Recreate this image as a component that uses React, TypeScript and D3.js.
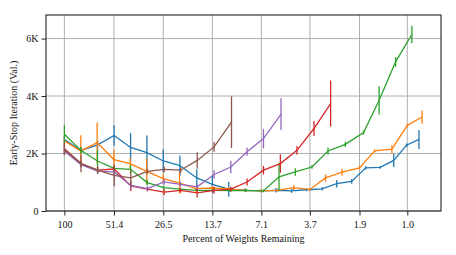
import React, { useEffect, useRef } from "react";
import * as d3 from "d3";

const xTicks = [100, 51.4, 26.5, 13.7, 7.1, 3.7, 1.9, 1.0];
const xTickLabels = ["100", "51.4", "26.5", "13.7", "7.1", "3.7", "1.9", "1.0"];
const yTicks = [0, 2, 4, 6];
const yTickLabels = ["0", "2K", "4K", "6K"];

// values in thousands of iterations, x in percent of weights remaining
const bluePct = [100, 79.9, 64.0, 51.3, 41.1, 33.0, 26.5, 21.2, 16.9, 13.7, 11.0, 8.84, 7.13, 5.83, 4.73, 3.87, 3.14, 2.58, 2.11, 1.75, 1.44, 1.2, 1.01, 0.855];
const blueMean = [2.49, 2.1, 2.3, 2.63, 2.21, 2.03, 1.74, 1.58, 1.15, 0.93, 0.76, 0.72, 0.7, 0.72, 0.7, 0.74, 0.77, 0.95, 1.03, 1.5, 1.52, 1.76, 2.29, 2.49];
const blueErr = [0.1, 0.12, 0.15, 0.35, 0.5, 0.6, 0.4, 0.35, 0.3, 0.3, 0.26, 0.06, 0.05, 0.08, 0.07, 0.05, 0.06, 0.13, 0.08, 0.06, 0.05, 0.23, 0.06, 0.33];

const orangePct = [100, 80.2, 64.4, 51.4, 41.3, 33.1, 26.5, 21.3, 17.1, 13.7, 11.0, 8.8, 7.1, 5.7, 4.6, 3.7, 3.0, 2.4, 1.9, 1.55, 1.23, 1.0, 0.82];
const orangeMean = [2.44, 2.09, 2.38, 1.79, 1.65, 1.38, 1.13, 0.97, 0.78, 0.8, 0.77, 0.72, 0.7, 0.72, 0.81, 0.75, 1.15, 1.35, 1.5, 2.09, 2.15, 2.98, 3.27];
const orangeErr = [0.15, 0.55, 0.7, 0.34, 0.2, 0.45, 0.15, 0.37, 0.1, 0.08, 0.06, 0.05, 0.06, 0.05, 0.09, 0.05, 0.13, 0.12, 0.06, 0.05, 0.14, 0.06, 0.23];

const greenPct = [100, 80.1, 64.1, 51.3, 41.1, 32.9, 26.3, 21.1, 16.9, 13.5, 10.8, 8.7, 6.9, 5.6, 4.5, 3.6, 2.9, 2.3, 1.8, 1.46, 1.17, 0.94];
const greenMean = [2.67, 2.11, 1.74, 1.48, 1.45, 0.99, 0.81, 0.76, 0.72, 0.72, 0.71, 0.72, 0.7, 1.19, 1.36, 1.53, 2.09, 2.32, 2.73, 3.85, 5.19, 6.15];
const greenErr = [0.32, 0.12, 0.4, 0.1, 0.15, 0.1, 0.06, 0.05, 0.05, 0.05, 0.05, 0.05, 0.05, 0.49, 0.13, 0.06, 0.12, 0.09, 0.07, 0.49, 0.17, 0.3];

const redPct = [100, 80, 64, 51.2, 41, 32.8, 26.2, 21, 16.8, 13.4, 10.7, 8.6, 6.9, 5.5, 4.4, 3.5, 2.8];
const redMean = [2.17, 1.65, 1.42, 1.46, 0.87, 0.76, 0.66, 0.72, 0.63, 0.72, 0.76, 1.01, 1.42, 1.65, 2.11, 2.87, 3.74];
const redErr = [0.2, 0.1, 0.13, 0.1, 0.18, 0.08, 0.1, 0.08, 0.16, 0.12, 0.08, 0.12, 0.15, 0.32, 0.15, 0.26, 0.8];

const purplePct = [100, 80, 64, 51.2, 41, 32.8, 26.2, 21, 16.8, 13.4, 10.7, 8.6, 6.9, 5.45];
const purpleMean = [2.09, 1.61, 1.39, 1.36, 0.89, 0.78, 1.01, 0.93, 0.84, 1.27, 1.53, 2.06, 2.52, 3.37];
const purpleErr = [0.1, 0.1, 0.1, 0.1, 0.1, 0.08, 0.1, 0.08, 0.08, 0.15, 0.22, 0.14, 0.34, 0.55];

const brownPct = [100, 80, 64, 51.2, 41, 32.8, 26.2, 21, 16.8, 13.4, 10.6];
const brownMean = [2.14, 1.65, 1.42, 1.24, 1.15, 1.38, 1.45, 1.42, 1.76, 2.23, 3.09];
const brownErr = [0.2, 0.3, 0.1, 0.38, 0.26, 0.1, 0.1, 0.1, 0.28, 0.17, 0.9];

const series = [
  { color: "#1f77b4", pct: bluePct, mean: blueMean, err: blueErr },
  { color: "#ff7f0e", pct: orangePct, mean: orangeMean, err: orangeErr },
  { color: "#2ca02c", pct: greenPct, mean: greenMean, err: greenErr },
  { color: "#d62728", pct: redPct, mean: redMean, err: redErr },
  { color: "#9467bd", pct: purplePct, mean: purpleMean, err: purpleErr },
  { color: "#8c564b", pct: brownPct, mean: brownMean, err: brownErr },
];

const FONT = "'Liberation Serif', 'Times New Roman', serif";

export default function App() {
  const ref = useRef<SVGSVGElement>(null);

  useEffect(() => {
    const width = 456, height = 255;
    const margin = { top: 15, right: 15, bottom: 44, left: 46 };
    const svg = d3.select(ref.current);
    svg.selectAll("*").remove();

    const x = d3.scaleLog()
      .domain([128, 0.636])
      .range([margin.left, width - margin.right]);
    const y = d3.scaleLinear()
      .domain([0, 6.82])
      .range([height - margin.bottom, margin.top]);

    // grid
    svg.append("g")
      .selectAll("line")
      .data(xTicks)
      .join("line")
        .attr("x1", d => x(d)).attr("x2", d => x(d))
        .attr("y1", margin.top).attr("y2", height - margin.bottom)
        .attr("stroke", "#b0b0b0").attr("stroke-width", 1);
    svg.append("g")
      .selectAll("line")
      .data(yTicks)
      .join("line")
        .attr("y1", d => y(d)).attr("y2", d => y(d))
        .attr("x1", margin.left).attr("x2", width - margin.right)
        .attr("stroke", "#b0b0b0").attr("stroke-width", 1);

    // lines and error bars
    const line = d3.line<[number, number]>()
      .x(d => x(d[0]))
      .y(d => y(d[1]));

    series.forEach(s => {
      const pts = s.pct.map((p, i) => [p, s.mean[i]] as [number, number]);
      const g = svg.append("g");
      g.append("path")
        .datum(pts)
        .attr("d", line)
        .attr("fill", "none")
        .attr("stroke", s.color)
        .attr("stroke-width", 1.3);
      g.selectAll("line")
        .data(s.pct.map((p, i) => ({ p, m: s.mean[i], e: s.err[i] })))
        .join("line")
          .attr("x1", d => x(d.p)).attr("x2", d => x(d.p))
          .attr("y1", d => y(d.m - d.e)).attr("y2", d => y(d.m + d.e))
          .attr("stroke", s.color)
          .attr("stroke-width", 1.3);
    });

    // axes
    const xAxis = svg.append("g")
      .attr("transform", "translate(0," + (height - margin.bottom) + ")")
      .call(d3.axisBottom(x)
        .tickValues(xTicks)
        .tickFormat((d, i) => xTickLabels[i])
        .tickSize(4.5)
        .tickPadding(5)
        .tickSizeOuter(0));
    const yAxis = svg.append("g")
      .attr("transform", "translate(" + margin.left + ",0)")
      .call(d3.axisLeft(y)
        .tickValues(yTicks)
        .tickFormat((d, i) => yTickLabels[i])
        .tickSize(4.5)
        .tickPadding(3)
        .tickSizeOuter(0));
    [xAxis, yAxis].forEach(a => {
      a.select(".domain").remove();
      a.attr("font-family", FONT).attr("font-size", 10);
      a.selectAll(".tick line").attr("stroke", "#222").attr("stroke-width", 1);
      a.selectAll(".tick text").attr("fill", "#111");
    });

    // frame
    svg.append("rect")
      .attr("x", margin.left).attr("y", margin.top)
      .attr("width", width - margin.left - margin.right)
      .attr("height", height - margin.top - margin.bottom)
      .attr("fill", "none")
      .attr("stroke", "#222")
      .attr("stroke-width", 1.1);

    // labels
    svg.append("text")
      .attr("x", (margin.left + width - margin.right) / 2)
      .attr("y", 242)
      .attr("text-anchor", "middle")
      .attr("font-family", FONT)
      .attr("font-size", 10)
      .attr("fill", "#111")
      .text("Percent of Weights Remaining");
    svg.append("text")
      .attr("transform", "translate(16.5," + (margin.top + height - margin.bottom) / 2 + ") rotate(-90)")
      .attr("text-anchor", "middle")
      .attr("font-family", FONT)
      .attr("font-size", 10)
      .attr("fill", "#111")
      .text("Early-Stop Iteration (Val.)");
  }, []);

  return (
    <svg
      ref={ref}
      width={456}
      height={255}
      style={{ position: "absolute", left: 0, top: 0, background: "#fff" }}
    />
  );
}
